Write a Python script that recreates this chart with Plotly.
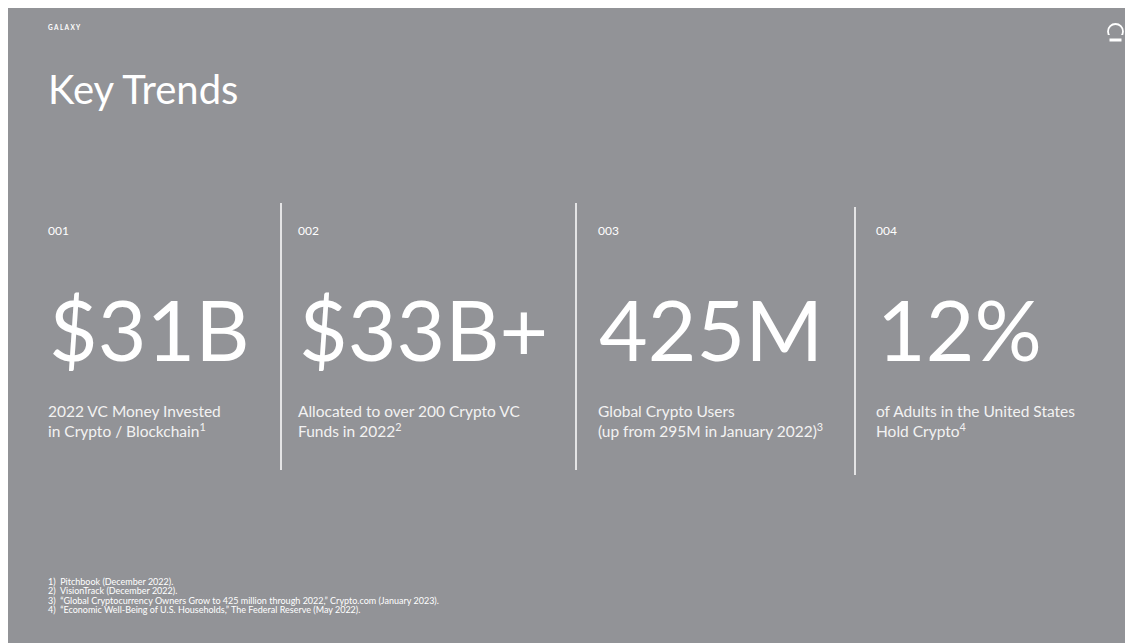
import plotly.graph_objects as go

W, H = 1133, 643
OFF = 8  # default page body margin
FONT = "Lato"

brand = "GALAXY"
title = "Key Trends"
indices = ["001", "002", "003", "004"]
figures = ["$31B", "$33B+", "425M", "12%"]
descriptions = [
    "2022 VC Money Invested<br>in Crypto / Blockchain<sup>1</sup>",
    "Allocated to over 200 Crypto VC<br>Funds in 2022<sup>2</sup>",
    "Global Crypto Users<br>(up from 295M in January 2022)<sup>3</sup>",
    "of Adults in the United States<br>Hold Crypto<sup>4</sup>",
]
footnotes = [
    "1)  Pitchbook (December 2022).",
    "2)  VisionTrack (December 2022).",
    "3)  \u201cGlobal Cryptocurrency Owners Grow to 425 million through 2022,\u201d Crypto.com (January 2023).",
    "4)  \u201cEconomic Well-Being of U.S. Households,\u201d The Federal Reserve (May 2022).",
]

col_x = [48, 298, 598, 876]
div_lines = [(281, 203, 470), (576, 203, 470), (855, 207, 475)]
BG = "#929397"

fig = go.Figure()
shapes = []
for x, y0, y1 in div_lines:
    shapes.append(dict(type="line", x0=x, x1=x, y0=y0, y1=y1, line=dict(color="white", width=1.5)))
# logo icon: open ring over a bar
shapes.append(dict(type="circle", x0=1108, x1=1123, y0=24, y1=39, line=dict(color="white", width=1.8)))
shapes.append(dict(type="rect", x0=1106, x1=1125, y0=35, y1=43, fillcolor=BG, line=dict(width=0)))
shapes.append(dict(type="rect", x0=1109.5, x1=1121.5, y0=38.5, y1=41.5, fillcolor="white", line=dict(width=0)))

ann = []
ann.append(dict(x=46, y=27, text="<b>" + " ".join(brand) + "</b>", font=dict(size=6.5, color="white", family=FONT),
                xanchor="left", yanchor="middle", showarrow=False))
ann.append(dict(x=46, y=89, text=title, font=dict(size=40, color="white", family=FONT),
                xanchor="left", yanchor="middle", showarrow=False))
for i in range(4):
    ann.append(dict(x=col_x[i] - 2, y=230, text=indices[i], font=dict(size=12, color="white", family=FONT),
                    xanchor="left", yanchor="middle", showarrow=False))
    ann.append(dict(x=col_x[i] - 1, y=328, text=figures[i], font=dict(size=84, color="white", family=FONT),
                    xanchor="left", yanchor="middle", showarrow=False))
    ann.append(dict(x=col_x[i] - 2, y=421, text=descriptions[i], font=dict(size=15.5, color="#f2f2f2", family=FONT),
                    xanchor="left", yanchor="middle", align="left", showarrow=False))
for j, fn in enumerate(footnotes):
    ann.append(dict(x=46, y=581 + j * 9.6, text=fn, font=dict(size=9, color="white", family=FONT),
                    xanchor="left", yanchor="middle", showarrow=False))

fig.update_layout(
    width=W - OFF, height=H - OFF, margin=dict(l=0, r=0, t=0, b=0, pad=0),
    paper_bgcolor=BG, plot_bgcolor=BG,
    xaxis=dict(range=[OFF, W], visible=False, fixedrange=True),
    yaxis=dict(range=[H, OFF], visible=False, fixedrange=True),
    shapes=shapes, annotations=ann, showlegend=False,
)
fig.write_html("out.html")
